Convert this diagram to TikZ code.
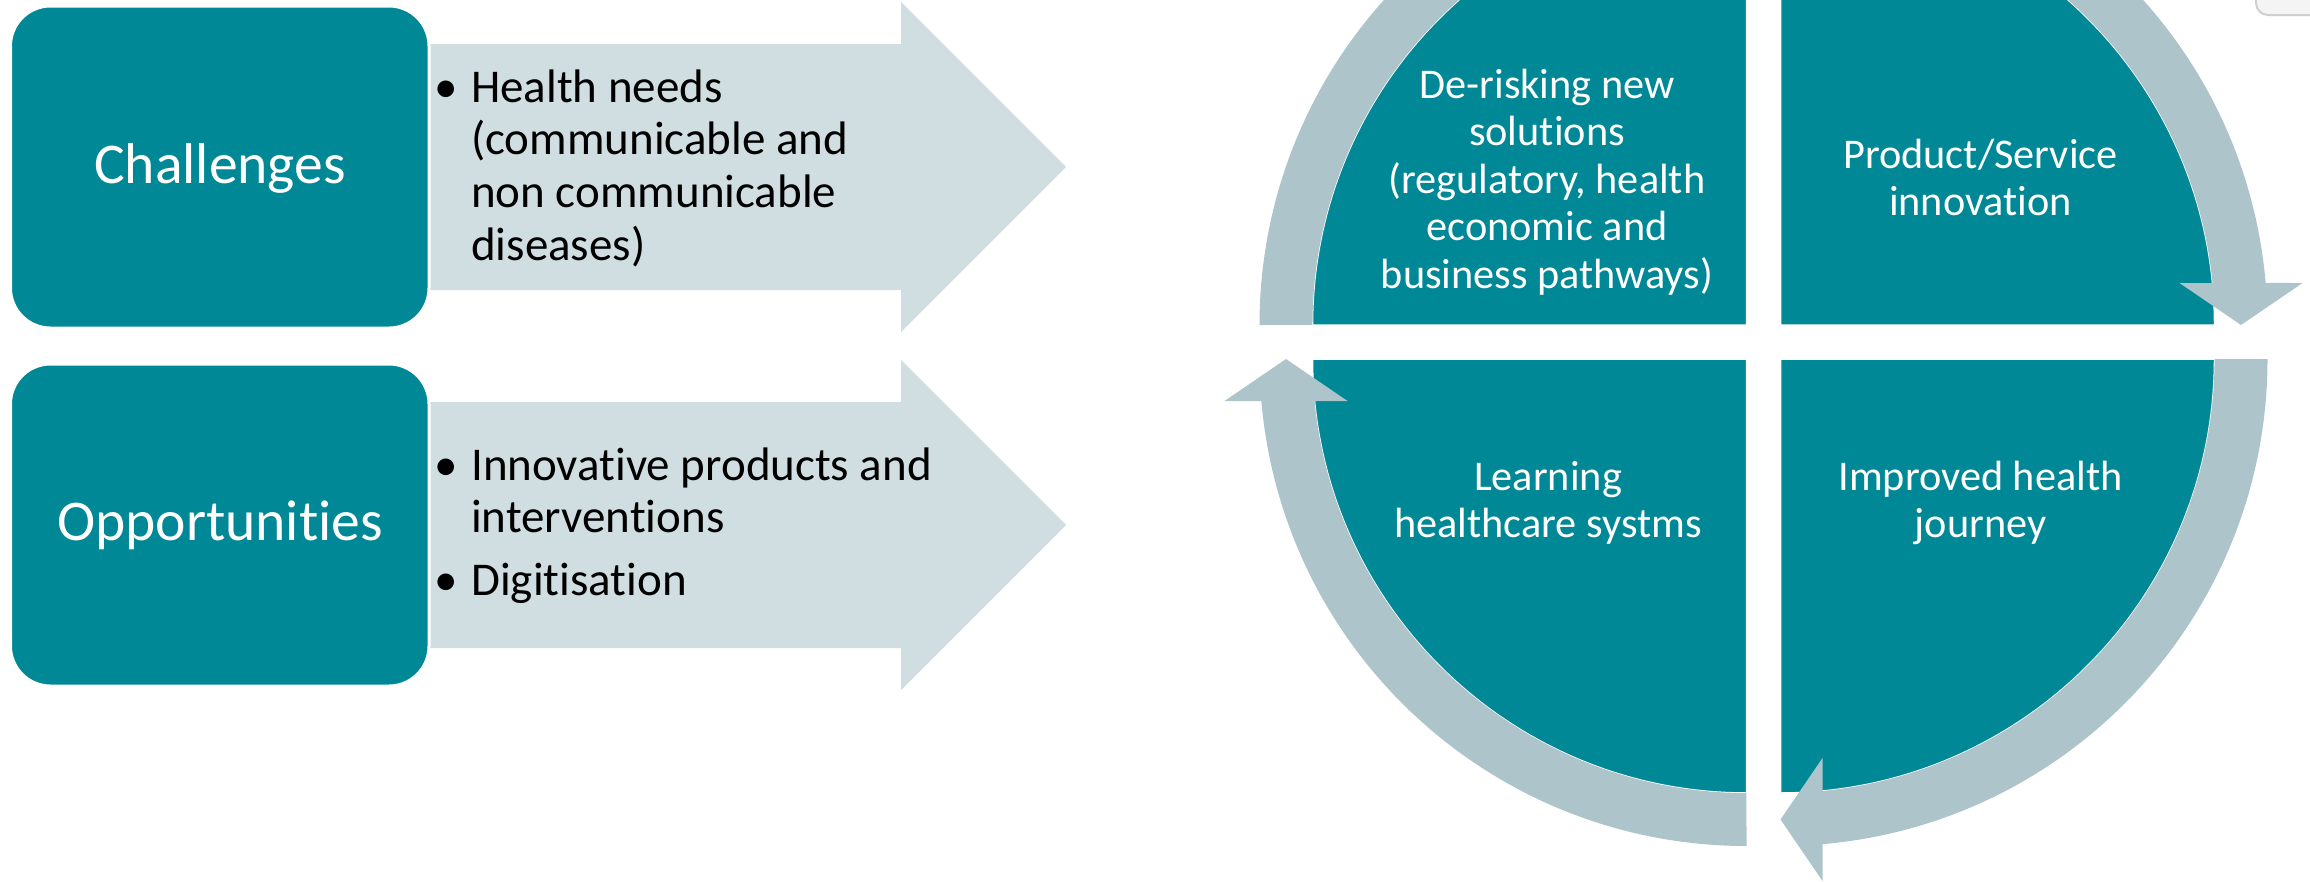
\documentclass[tikz,border=0pt]{standalone}
\usepackage{fontspec}
\setmainfont{Carlito}[Ligatures=NoCommon]
\definecolor{tealq}{HTML}{008896}
\definecolor{ringc}{HTML}{ADC4CA}
\definecolor{arrowc}{HTML}{D0DEE1}
\definecolor{uigray}{HTML}{F4F4F4}
\definecolor{uiedge}{HTML}{CFCFCF}
\tikzset{
  boxfill/.style={fill=tealq, draw=white, line width=3pt},
  quadfill/.style={fill=tealq, draw=white, line width=1.5pt},
  chevron/.style={fill=arrowc},
  ringband/.style={fill=ringc},
  headtxt/.style={text=white, inner sep=0pt, font=\fontsize{57.6}{69}\selectfont},
  bultxt/.style={text=black, inner sep=0pt, anchor=base west, font=\fontsize{47}{52.7}\selectfont},
  bulmark/.style={text=black, inner sep=0pt, anchor=base, font=\fontsize{47}{52.7}\selectfont},
  quadtxt/.style={text=white, inner sep=0pt, anchor=base, font=\fontsize{42.3}{47.5}\selectfont},
}
\begin{document}
\begin{tikzpicture}[x=1pt,y=1pt]
\useasboundingbox (0,0) rectangle (2310,-881);
\clip (0,0) rectangle (2310,-881);

% chevron arrows
\fill[chevron] (380,-44) -- (901,-44) -- (901,-2) -- (1066,-167) -- (901,-332) -- (901,-290) -- (380,-290) -- cycle;
\fill[chevron] (380,-402) -- (901,-402) -- (901,-360) -- (1066,-525) -- (901,-690) -- (901,-648) -- (380,-648) -- cycle;

% rounded boxes
\filldraw[boxfill, rounded corners=40pt] (10.5,-6) rectangle (429,-328);
\filldraw[boxfill, rounded corners=40pt] (10.5,-364) rectangle (429,-686);

\node[headtxt, anchor=base] (chal) at (220,-183) {Challenges};
\node[headtxt, anchor=base] (opp) at (220,-540) {Opportunities};

% bullets
\node[bulmark] (b1) at (446.5,-102) {\textbullet};
\node[bultxt] (t1) at (471,-102) {\begin{tabular}[t]{@{}l@{}}Health needs\\(communicable and\\non communicable\\diseases)\end{tabular}};
\node[bulmark] (b2) at (446.5,-480) {\textbullet};
\node[bultxt] (t2) at (471,-480) {\begin{tabular}[t]{@{}l@{}}Innovative products and\\interventions\end{tabular}};
\node[bulmark] (b3) at (446.5,-595) {\textbullet};
\node[bultxt] (t3) at (471,-595) {Digitisation};

% quadrants
\filldraw[quadfill] (1746.5,-325) -- ++(-434,0) arc[start angle=180, end angle=90, radius=434] -- cycle;
\filldraw[quadfill] (1780.5,-325) -- ++(0,434) arc[start angle=90, end angle=0, radius=434] -- cycle;
\filldraw[quadfill] (1780.5,-359) -- ++(434,0) arc[start angle=0, end angle=-90, radius=434] -- cycle;
\filldraw[quadfill] (1746.5,-359) -- ++(0,-434) arc[start angle=-90, end angle=-180, radius=434] -- cycle;

% ring arrows
\foreach \cx/\cy/\rot in {1780.5/-325/0, 1780.5/-359/-90, 1746.5/-359/-180, 1746.5/-325/-270}{
  \begin{scope}[shift={(\cx,\cy)}, rotate=\rot]
    \fill[ringband] (90:487) arc[start angle=90, end angle=4.95, radius=487]
      -- (522,42) -- (460.5,0) -- (399,42) -- (432,42)
      arc[start angle=5.55, end angle=90, radius=434] -- cycle;
  \end{scope}
}

% quadrant texts
\node[quadtxt] (q1) at (1547,-98) {\begin{tabular}[t]{@{}c@{}}De-risking new\\solutions\\(regulatory, health\\economic and\\business pathways)\end{tabular}};
\node[quadtxt] (q2) at (1980.5,-168) {\begin{tabular}[t]{@{}c@{}}Product/Service\\innovation\end{tabular}};
\node[quadtxt] (q3) at (1548,-490) {\begin{tabular}[t]{@{}c@{}}Learning\\healthcare systms\end{tabular}};
\node[quadtxt] (q4) at (1980.5,-490) {\begin{tabular}[t]{@{}c@{}}Improved health\\journey\end{tabular}};

% UI corner artifact
\filldraw[fill=uigray, draw=uiedge, line width=2pt, rounded corners=12pt] (2256,20) rectangle (2330,-15);
\end{tikzpicture}
\end{document}
